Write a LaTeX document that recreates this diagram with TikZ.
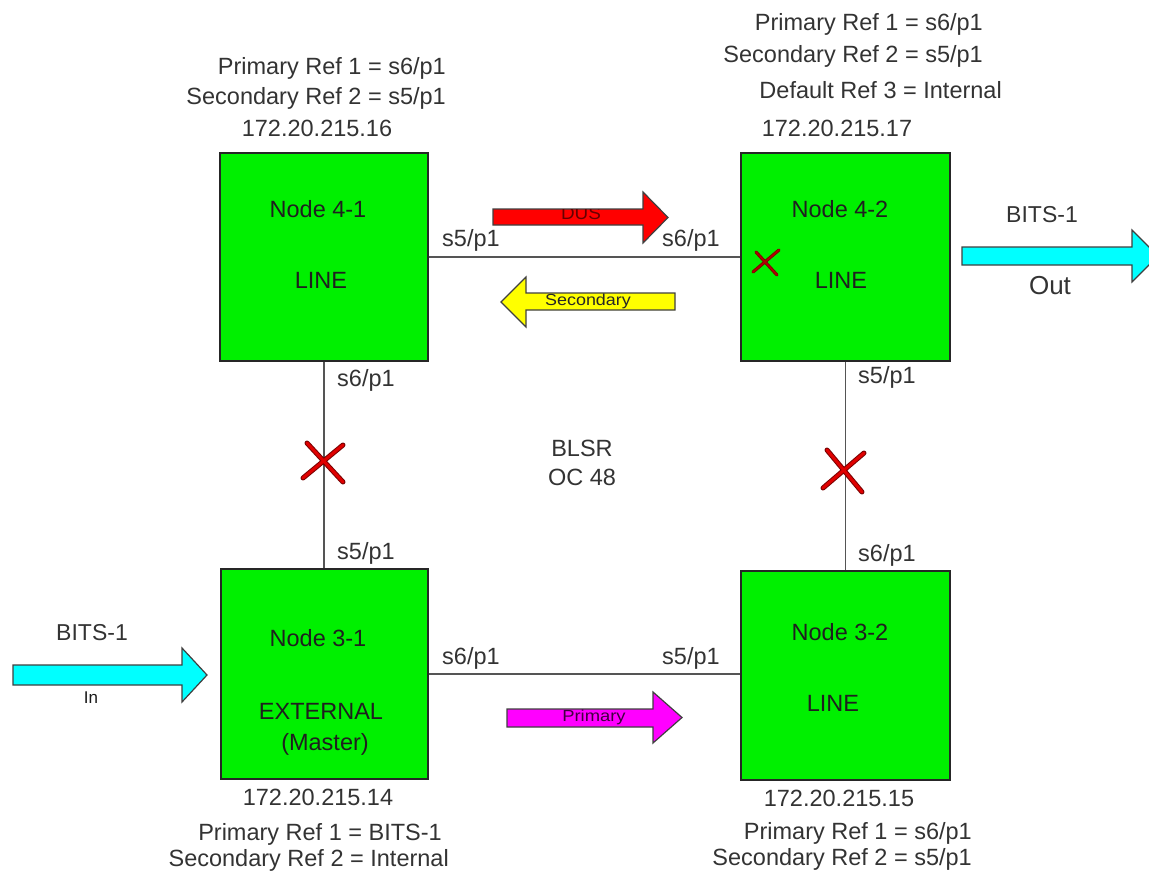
\documentclass[tikz,border=0pt]{standalone}
\usepackage{fontspec}
\setmainfont{Liberation Sans}
\definecolor{nodegreen}{HTML}{00F000}
\definecolor{txtgray}{HTML}{333333}
\definecolor{linegray}{HTML}{555555}
\definecolor{xred}{HTML}{E00000}
\definecolor{xdark}{HTML}{7A0000}
\definecolor{cyanfill}{HTML}{00FFFF}
\definecolor{magfill}{HTML}{FF00FF}
\definecolor{yelfill}{HTML}{FFFF00}
\definecolor{redfill}{HTML}{FF0000}
\begin{document}
\begin{tikzpicture}[x=1pt,y=-1pt,
  nodebox/.style={draw=black!85, line width=1.3pt, fill=nodegreen, inner sep=0pt},
  lbl/.style={text=txtgray, font=\fontsize{23.5}{26}\selectfont, inner sep=0pt},
  btxt/.style={text=black!88, font=\fontsize{23.5}{26}\selectfont, inner sep=0pt},
  link/.style={draw=linegray, line width=1.5pt},
  blockarr/.style={draw=black!75, line width=1.2pt, line join=miter},
  atxt/.style={inner sep=0pt, font=\fontsize{16}{18}\selectfont},
  xmark/.style={draw=xdark, line width=5pt, line cap=round},
  xmarkin/.style={draw=xred, line width=3pt, line cap=round}]
\useasboundingbox (0,0) rectangle (1149,876);
\clip (0,0) rectangle (1149,876);
\fill[white] (0,0) rectangle (1149,876);

% boxes
\node[nodebox, minimum width=208pt, minimum height=208pt] (n41) at (324,257) {};
\node[nodebox, minimum width=209pt, minimum height=208pt] (n42) at (845.5,257) {};
\node[nodebox, minimum width=207pt, minimum height=210pt] (n31) at (324.5,674) {};
\node[nodebox, minimum width=209pt, minimum height=209pt] (n32) at (845.5,675.5) {};

% connectors
\draw[link] (n41.east) -- (n42.west);
\draw[link] (n31.east) -- (n31.east -| n32.west);
\draw[link] (n41.south) -- (n41.south |- n31.north);
\draw[link] (n42.south) -- (n42.south |- n32.north);

% box texts
\node[btxt] (t41a) at (318,209) {Node 4-1};
\node[btxt] (t41b) at (321,280) {LINE};
\node[btxt] (t42a) at (840,209) {Node 4-2};
\node[btxt] (t42b) at (841,280) {LINE};
\node[btxt] (t31a) at (318,638) {Node 3-1};
\node[btxt] (t31b) at (321,711) {EXTERNAL};
\node[btxt] (t31c) at (325,744) {(Master)};
\node[btxt] (t32a) at (840,632) {Node 3-2};
\node[btxt] (t32b) at (833,703) {LINE};

% top-left labels
\node[lbl, anchor=east] (tl1) at (446,68) {Primary Ref 1 = s6/p1};
\node[lbl, anchor=east] (tl2) at (446,98) {Secondary Ref 2 = s5/p1};
\node[lbl] (tl3) at (317,128) {172.20.215.16};
% top-right labels
\node[lbl, anchor=east] (tr1) at (983,24) {Primary Ref 1 = s6/p1};
\node[lbl, anchor=east] (tr2) at (983,56) {Secondary Ref 2 = s5/p1};
\node[lbl, anchor=east] (tr3) at (1002,90) {Default Ref 3 = Internal};
\node[lbl] (tr4) at (837,128) {172.20.215.17};
% bottom-left labels
\node[lbl] (bl1) at (318,797) {172.20.215.14};
\node[lbl, anchor=east] (bl2) at (442,834) {Primary Ref 1 = BITS-1};
\node[lbl, anchor=east] (bl3) at (449,860) {Secondary Ref 2 = Internal};
% bottom-right labels
\node[lbl] (br1) at (839,798) {172.20.215.15};
\node[lbl, anchor=east] (br2) at (972,833) {Primary Ref 1 = s6/p1};
\node[lbl, anchor=east] (br3) at (972,859) {Secondary Ref 2 = s5/p1};

% port labels
\node[lbl, anchor=west] (p1) at (442,240) {s5/p1};
\node[lbl, anchor=west] (p2) at (662,240) {s6/p1};
\node[lbl, anchor=west] (p3) at (337,380) {s6/p1};
\node[lbl, anchor=west] (p4) at (337,553) {s5/p1};
\node[lbl, anchor=west] (p5) at (858,377) {s5/p1};
\node[lbl, anchor=west] (p6) at (858,555) {s6/p1};
\node[lbl, anchor=west] (p7) at (442,658) {s6/p1};
\node[lbl, anchor=west] (p8) at (662,658) {s5/p1};

% ring label
\node[lbl] (ring1) at (582,448) {BLSR};
\node[lbl] (ring2) at (582,477) {OC 48};

% X marks
\draw[xmark] (307,443) -- (343,482) (303,478) -- (343,445);
\draw[xmarkin] (307,443) -- (343,482) (303,478) -- (343,445);
\draw[xmark] (827,450) -- (862,492) (823,488) -- (864,453);
\draw[xmarkin] (827,450) -- (862,492) (823,488) -- (864,453);
\draw[draw=xdark, line width=3.2pt, line cap=round] (756,252) -- (777,275) (753,272) -- (779,250);
\draw[draw=red!70!black, line width=1.6pt, line cap=round] (756,252) -- (777,275) (753,272) -- (779,250);

% red DUS arrow
\draw[blockarr, fill=redfill] (493,209) -- (643,209) -- (643,192) -- (668,217.5) -- (643,243) -- (643,225) -- (493,225) -- cycle;
\begin{scope}
\clip (493,209.5) rectangle (643,225);
\node[atxt, text=black!60!redfill, font=\fontsize{18}{20}\selectfont] (dus) at (581,213) {\scalebox{1.05}[1]{DUS}};
\end{scope}
% yellow Secondary arrow
\draw[blockarr, fill=yelfill] (675,293) -- (526,293) -- (526,277) -- (501,302) -- (526,327) -- (526,310) -- (675,310) -- cycle;
\node[atxt, text=black!85] (sec) at (588,301) {\scalebox{1.12}[1]{Secondary}};
% magenta Primary arrow
\draw[blockarr, fill=magfill] (507,709) -- (653,709) -- (653,692) -- (682,717.5) -- (653,743) -- (653,727) -- (507,727) -- cycle;
\node[atxt, text=black!75!magfill] (pri) at (594,717) {\scalebox{1.15}[1]{Primary}};

% BITS in arrow
\draw[blockarr, fill=cyanfill] (13,665) -- (182,665) -- (182,648) -- (207,675) -- (182,702) -- (182,685) -- (13,685) -- cycle;
\node[lbl, font=\fontsize{23}{26}\selectfont] (bin) at (92,633) {BITS-1};
\node[lbl, font=\fontsize{17}{19}\selectfont, text=black!90] (inl) at (91,698) {In};
% BITS out arrow
\draw[blockarr, fill=cyanfill] (962,247) -- (1132,247) -- (1132,230) -- (1158,256) -- (1132,282) -- (1132,265) -- (962,265) -- cycle;
\node[lbl, font=\fontsize{23}{26}\selectfont] (bout) at (1042,215) {BITS-1};
\node[lbl, font=\fontsize{26}{28}\selectfont] (outl) at (1050,286) {Out};
\end{tikzpicture}
\end{document}
